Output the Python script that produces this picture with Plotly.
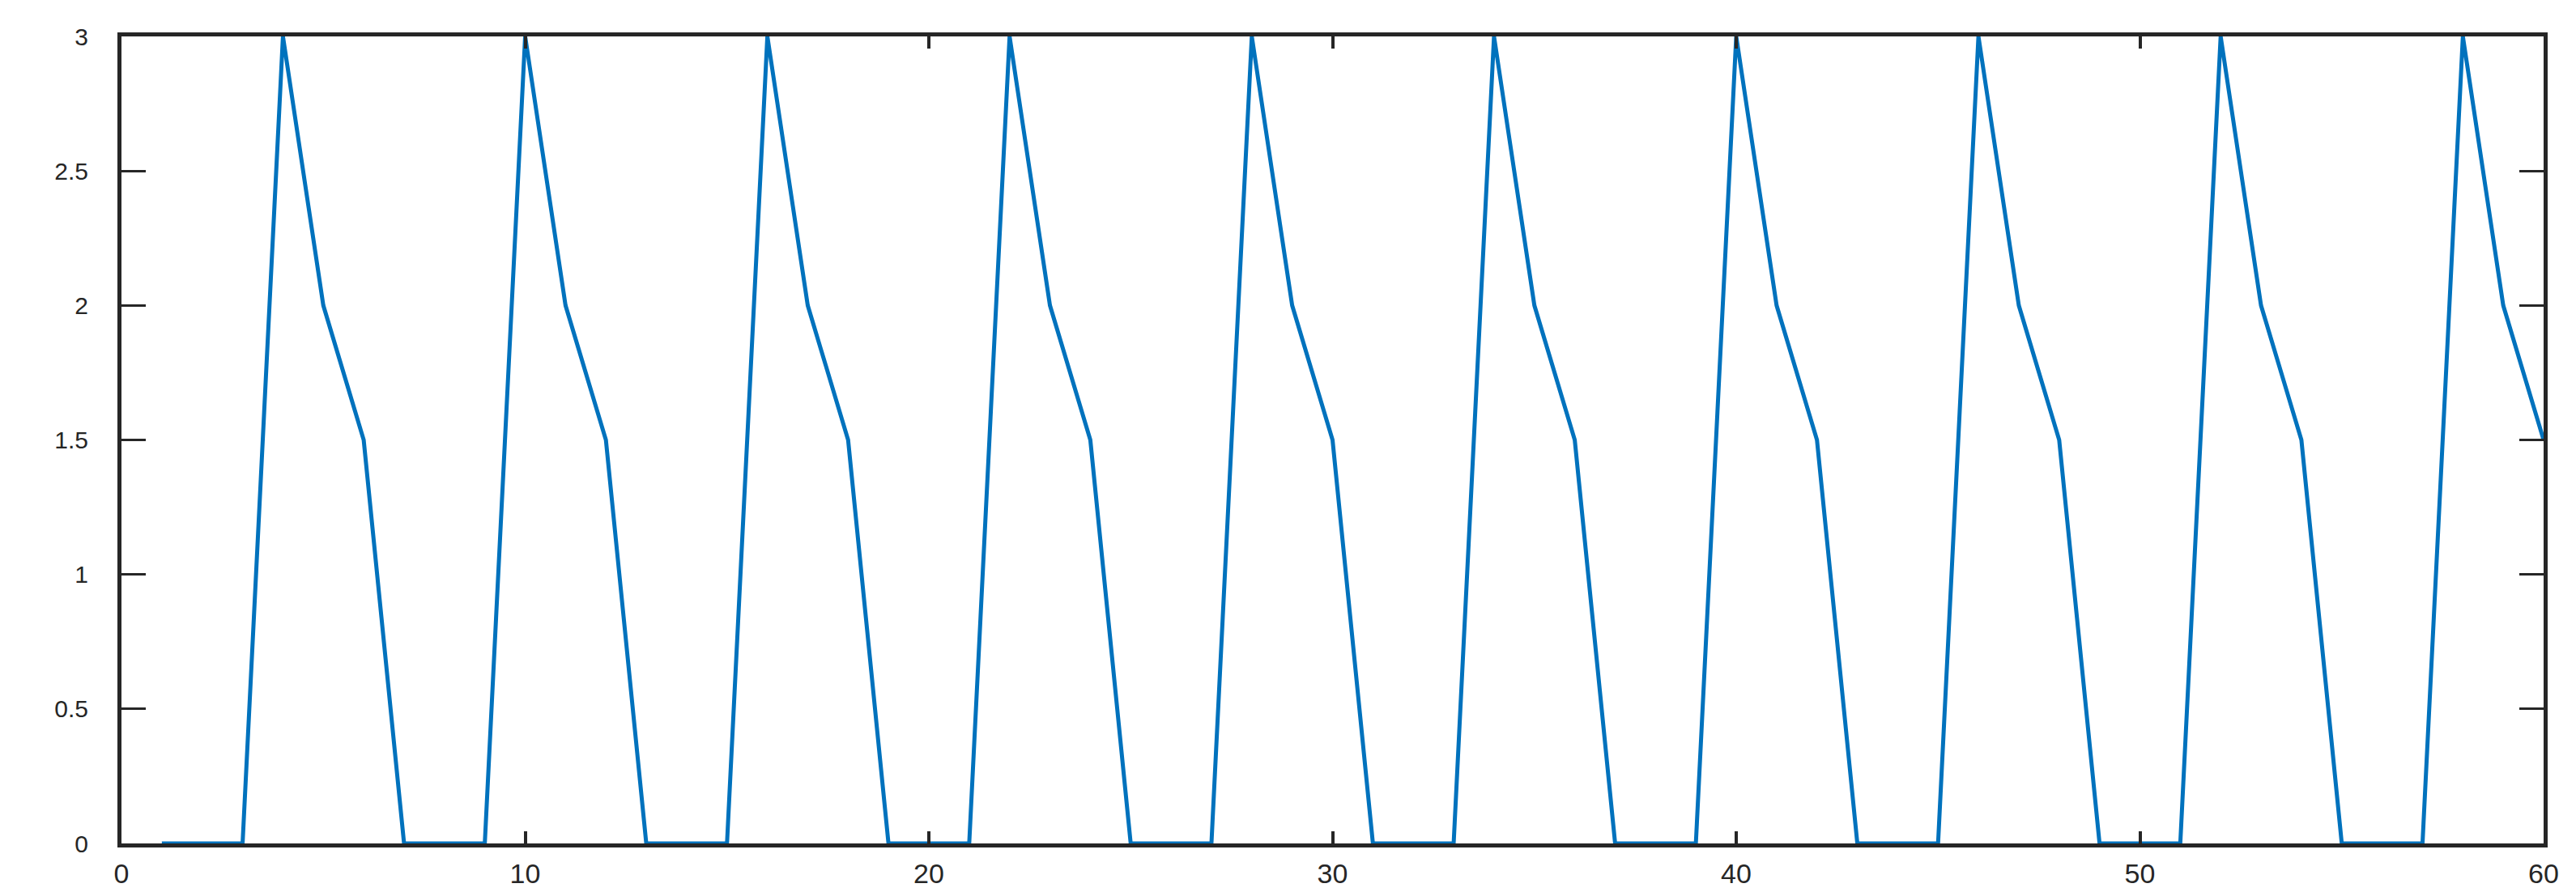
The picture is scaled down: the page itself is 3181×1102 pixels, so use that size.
import plotly.graph_objects as go

# sample index and signal value
x = [1, 2, 3, 4, 5, 6, 7, 8, 9, 10,
     11, 12, 13, 14, 15, 16, 17, 18, 19, 20,
     21, 22, 23, 24, 25, 26, 27, 28, 29, 30,
     31, 32, 33, 34, 35, 36, 37, 38, 39, 40,
     41, 42, 43, 44, 45, 46, 47, 48, 49, 50,
     51, 52, 53, 54, 55, 56, 57, 58, 59, 60]
y = [0, 0, 0, 3, 2, 1.5, 0, 0, 0, 3,
     2, 1.5, 0, 0, 0, 3, 2, 1.5, 0, 0,
     0, 3, 2, 1.5, 0, 0, 0, 3, 2, 1.5,
     0, 0, 0, 3, 2, 1.5, 0, 0, 0, 3,
     2, 1.5, 0, 0, 0, 3, 2, 1.5, 0, 0,
     0, 3, 2, 1.5, 0, 0, 0, 3, 2, 1.5]

x_ticks = [0, 10, 20, 30, 40, 50, 60]
y_ticks = [0, 0.5, 1, 1.5, 2, 2.5, 3]
y_ticktext = ['0', '0.5', '1', '1.5', '2', '2.5', '3']

fig = go.Figure()
fig.add_trace(go.Scatter(x=x, y=y, mode='lines',
                         line=dict(color='#0072BD', width=5),
                         showlegend=False))

axis_col = '#262626'
fig.update_xaxes(range=[0, 60], tickvals=x_ticks, ticks='inside', ticklen=15, tickwidth=4,
                 tickcolor=axis_col, showline=True, linecolor=axis_col, linewidth=5,
                 mirror='ticks', showgrid=False, zeroline=False,
                 tickfont=dict(family='Liberation Sans, Arial', size=34, color=axis_col),
                 ticklabelstandoff=3)
fig.update_yaxes(range=[0, 3], tickvals=y_ticks, ticktext=y_ticktext, ticks='inside', ticklen=30,
                 tickwidth=3, tickcolor=axis_col, showline=True, linecolor=axis_col, linewidth=5,
                 mirror='ticks', showgrid=False, zeroline=False,
                 tickfont=dict(family='Liberation Sans, Arial', size=30, color=axis_col),
                 ticklabelstandoff=30)
fig.update_layout(width=3181, height=1102, plot_bgcolor='white', paper_bgcolor='white',
                  margin=dict(l=142, r=48, t=37, b=66))

fig.write_html("out.html")
